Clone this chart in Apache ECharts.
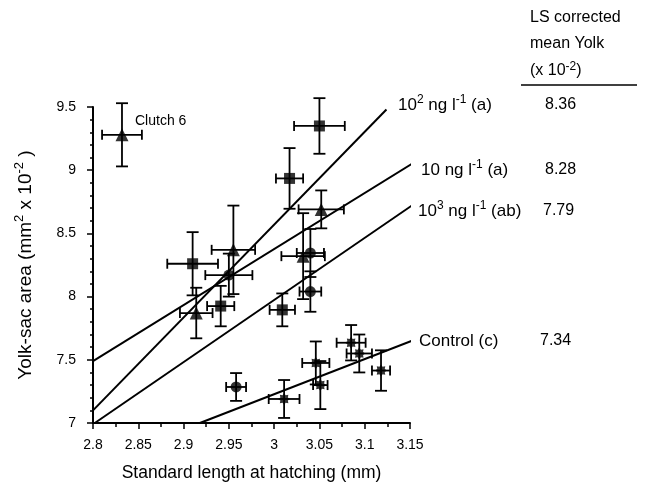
<!DOCTYPE html>
<html>
<head>
<meta charset="utf-8">
<script src="https://cdn.jsdelivr.net/npm/echarts@6/dist/echarts.min.js"></script>
<style>
html, body { margin: 0; padding: 0; background: #fff; }
#chart { width: 657px; height: 492px; }
</style>
</head>
<body>
<div id="chart"></div>
<script>
// Clutch means: standard length at hatching (mm) and yolk-sac area (mm² ×10⁻²), each with ± error

// 10² ng l⁻¹ (squares)
const sqLen     = [3.050, 3.017, 2.910, 2.941, 3.009];
const sqLenErr  = [0.028, 0.015, 0.028, 0.015, 0.014];
const sqYolk    = [9.35, 8.935, 8.26, 7.925, 7.895];
const sqYolkErr = [0.22, 0.24, 0.25, 0.16, 0.13];

// 10 ng l⁻¹ (triangles); first one is clutch 6
const trLen     = [2.832, 2.955, 2.914, 3.052, 3.032];
const trLenErr  = [0.022, 0.024, 0.018, 0.025, 0.024];
const trYolk    = [9.28, 8.37, 7.87, 8.69, 8.32];
const trYolkErr = [0.25, 0.35, 0.20, 0.15, 0.34];

// 10³ ng l⁻¹ (circles)
const ciLen     = [3.040, 3.040, 2.958, 2.950];
const ciLenErr  = [0.015, 0.012, 0.011, 0.026];
const ciYolk    = [8.345, 8.04, 7.285, 8.17];
const ciYolkErr = [0.19, 0.16, 0.11, 0.17];

// Control (stars)
const coLen     = [3.011, 3.046, 3.051, 3.085, 3.094, 3.118];
const coLenErr  = [0.017, 0.015, 0.008, 0.016, 0.014, 0.010];
const coYolk    = [7.19, 7.475, 7.30, 7.635, 7.55, 7.415];
const coYolkErr = [0.15, 0.17, 0.19, 0.14, 0.15, 0.16];

// Fitted regression lines: end points
const fitNames = ['10² ng l⁻¹', '10 ng l⁻¹', '10³ ng l⁻¹', 'Control'];
const fitX0 = [2.800, 2.800, 2.802, 2.918];
const fitX1 = [3.124, 3.152, 3.152, 3.152];
const fitY0 = [7.10, 7.49, 7.00, 7.00];
const fitY1 = [9.48, 9.05, 8.72, 7.65];

// LS corrected mean yolk (×10⁻²)
const lsMeans = ['8.36', '8.28', '7.79', '7.34'];

const FONT = '"Liberation Sans", Arial, sans-serif';

function rows(len, lenErr, yolk, yolkErr) {
  return len.map((v, i) => [v, yolk[i], lenErr[i], yolkErr[i]]);
}

// chunky eight-pointed star symbol for control clutches
function starSymbol() {
  const pts = [];
  for (let i = 0; i < 16; i++) {
    const r = i % 2 ? 0.68 : 1;
    const a = i * Math.PI / 8 - Math.PI / 2;
    pts.push((r * Math.cos(a)).toFixed(3) + ' ' + (r * Math.sin(a)).toFixed(3));
  }
  return 'path://M' + pts.join(' L') + ' Z';
}

function errorBars(params, api) {
  const x = api.value(0), y = api.value(1), xe = api.value(2), ye = api.value(3);
  const l = api.coord([x - xe, y]), r = api.coord([x + xe, y]);
  const t = api.coord([x, y + ye]), b = api.coord([x, y - ye]);
  const capH = 5, capV = 6;
  const st = { stroke: '#000', lineWidth: 1.8 };
  const seg = (x1, y1, x2, y2) => ({ type: 'line', shape: { x1, y1, x2, y2 }, style: st });
  return {
    type: 'group',
    children: [
      seg(l[0], l[1], r[0], r[1]),
      seg(t[0], t[1], b[0], b[1]),
      seg(l[0], l[1] - capH, l[0], l[1] + capH),
      seg(r[0], r[1] - capH, r[0], r[1] + capH),
      seg(t[0] - capV, t[1], t[0] + capV, t[1]),
      seg(b[0] - capV, b[1], b[0] + capV, b[1])
    ]
  };
}

const groups = [
  { data: rows(sqLen, sqLenErr, sqYolk, sqYolkErr), symbol: 'rect', size: 11 },
  { data: rows(trLen, trLenErr, trYolk, trYolkErr), symbol: 'triangle', size: 13 },
  { data: rows(ciLen, ciLenErr, ciYolk, ciYolkErr), symbol: 'circle', size: 11 },
  { data: rows(coLen, coLenErr, coYolk, coYolkErr), symbol: starSymbol(), size: 12 }
];

const series = [];
fitNames.forEach((name, i) => {
  series.push({
    name, type: 'line', silent: true, symbol: 'none',
    data: [[fitX0[i], fitY0[i]], [fitX1[i], fitY1[i]]],
    lineStyle: { color: '#000', width: 2 }, z: 2
  });
});
groups.forEach(g => {
  series.push({
    type: 'custom', renderItem: errorBars, data: g.data,
    encode: { x: 0, y: 1 }, z: 3, silent: true
  });
  series.push({
    type: 'scatter', data: g.data.map(d => [d[0], d[1]]),
    symbol: g.symbol, symbolSize: g.size,
    itemStyle: { color: '#000' }, z: 4, silent: true
  });
});

// rich styles: normal text sits at the bottom of the line box, superscripts at its top
function richFor(size, supSize, key) {
  const colorKey = key || 'fill';
  const n = { fontFamily: FONT, fontSize: size, lineHeight: Math.round(size * 1.15), verticalAlign: 'bottom' };
  const sup = { fontFamily: FONT, fontSize: supSize, lineHeight: supSize, verticalAlign: 'top' };
  n[colorKey] = '#000';
  sup[colorKey] = '#000';
  return { n, sup };
}

function label(text, x, y, size) {
  const s = size || 16;
  return {
    type: 'text', x, y,
    style: { text, fill: '#000', fontFamily: FONT, fontSize: s, verticalAlign: 'middle', rich: richFor(s, Math.round(s * 0.72)) }
  };
}

const chart = echarts.init(document.getElementById('chart'), null, { renderer: 'canvas' });
chart.setOption({
  animation: false,
  backgroundColor: '#fff',
  grid: { left: 93, right: 247, top: 107, bottom: 69, outerBoundsMode: 'none' },
  xAxis: {
    type: 'value', min: 2.8, max: 3.15, interval: 0.05,
    name: 'Standard length at hatching (mm)', nameLocation: 'middle', nameGap: 41,
    nameTextStyle: { fontFamily: FONT, fontSize: 17.5, color: '#000' },
    axisLine: { lineStyle: { color: '#000', width: 2 } },
    axisTick: { inside: false, length: 6, lineStyle: { color: '#000', width: 1.5 } },
    minorTick: { show: true, splitNumber: 2, length: 4, lineStyle: { color: '#000', width: 1.5 } },
    axisLabel: { margin: 15, fontFamily: FONT, fontSize: 14, color: '#000', formatter: v => String(+v.toFixed(2)) },
    splitLine: { show: false }
  },
  yAxis: {
    type: 'value', min: 7, max: 9.5, interval: 0.5,
    name: '{n|Yolk-sac area (mm}{sup|2}{n| x 10}{sup|-2}{n| )}', nameLocation: 'middle', nameGap: 58, nameRotate: 90,
    nameTextStyle: { fontFamily: FONT, fontSize: 19, color: '#000', rich: richFor(19, 13, 'color') },
    axisLine: { show: true, lineStyle: { color: '#000', width: 2 } },
    axisTick: { show: true, inside: false, length: 6, lineStyle: { color: '#000', width: 1.5 } },
    minorTick: { show: true, splitNumber: 5, length: 3, lineStyle: { color: '#000', width: 1.5 } },
    axisLabel: { margin: 17, fontFamily: FONT, fontSize: 14, color: '#000', formatter: v => String(+v.toFixed(1)) },
    splitLine: { show: false }
  },
  graphic: [
    label('LS corrected', 530, 18),
    label('mean Yolk', 530, 44),
    label('{n|(x 10}{sup|-2}{n|)}', 530, 70),
    { type: 'line', shape: { x1: 521, y1: 85, x2: 637, y2: 85 }, style: { stroke: '#000', lineWidth: 1.5 } },
    label('{n|10}{sup|2}{n| ng l}{sup|-1}{n| (a)}', 398, 104, 17),
    label(lsMeans[0], 545, 105),
    label('{n|10 ng l}{sup|-1}{n| (a)}', 421, 169, 17),
    label(lsMeans[1], 545, 170),
    label('{n|10}{sup|3}{n| ng l}{sup|-1}{n| (ab)}', 418, 210, 17),
    label(lsMeans[2], 543, 211),
    label('Control (c)', 419, 341, 17),
    label(lsMeans[3], 540, 341),
    label('Clutch 6', 135, 121, 14)
  ],
  series
});
</script>
</body>
</html>
